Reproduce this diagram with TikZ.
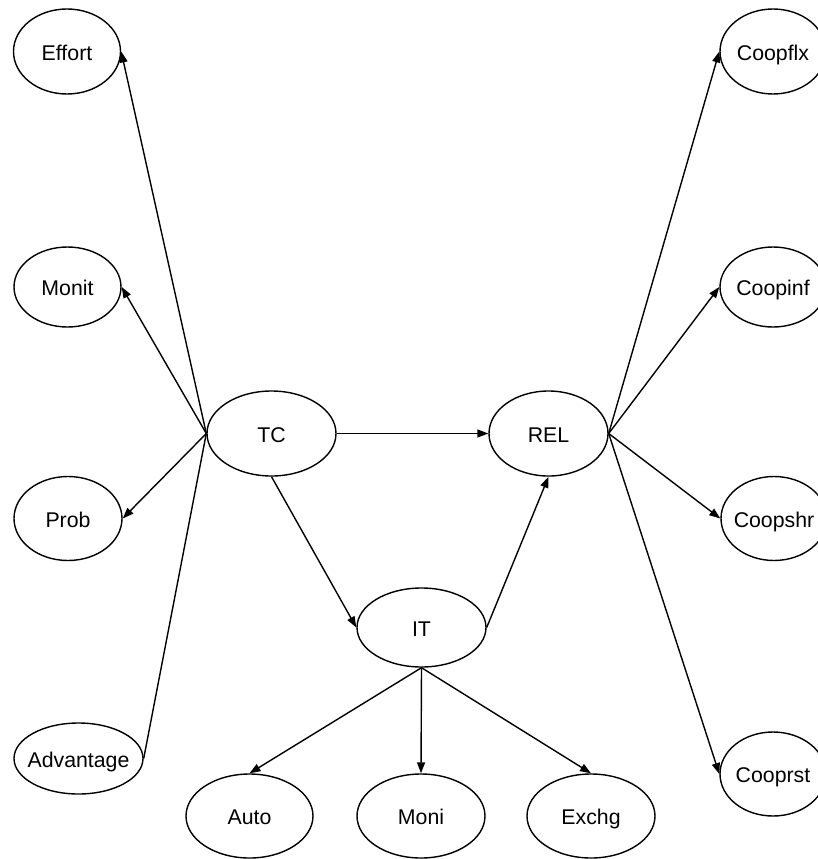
\documentclass[tikz,border=0pt]{standalone}
\usepackage{fontspec}
\setmainfont{Liberation Sans}
\usetikzlibrary{shapes.geometric,arrows.meta}
\begin{document}
\begin{tikzpicture}[x=1pt,y=-1pt,
  ell/.style={draw=black, line width=1.4pt, ellipse, inner sep=0pt,
    minimum width=#1},
  ell/.default=106pt,
  every label/.style={font=\fontsize{21.3}{25}\selectfont, inner sep=0pt,
    text height=15.3pt, text depth=0pt, yshift=-1pt},
  conn/.style={line width=1.4pt, -{Triangle[length=11pt,width=8pt]}},
  plain/.style={line width=1.4pt}
]
\useasboundingbox (0,0) rectangle (817,859);
\fill[white] (0,0) rectangle (817,859);

% left column
\node[ell=107pt, minimum height=85pt, label={center:Effort}] (effort) at (67,51.5) {};
\node[ell=107pt, minimum height=80pt, label={center:Monit}] (monit) at (67.5,287) {};
\node[ell=108pt, minimum height=84pt, label={center:Prob}] (prob) at (68,518.5) {};
\node[ell=129pt, minimum height=71pt, label={center:Advantage}] (adv) at (78.5,758.5) {};

% middle
\node[ell=129pt, minimum height=85pt, label={center:TC}] (tc) at (271.5,433.5) {};
\node[ell=119pt, minimum height=85pt, label={center:REL}] (rel) at (548.5,433.5) {};
\node[ell=129pt, minimum height=79pt, label={center:IT}] (it) at (421.5,627.5) {};

% bottom row
\node[ell=127pt, minimum height=84pt, label={center:Auto}] (auto) at (249.5,816) {};
\node[ell=128pt, minimum height=84pt, label={center:Moni}] (moni) at (421,816) {};
\node[ell=128pt, minimum height=84pt, label={center:Exchg}] (exchg) at (591,816) {};

% right column
\node[ell=106pt, minimum height=85pt, label={center:Coopflx}] (coopflx) at (773,51.5) {};
\node[ell=106pt, minimum height=80pt, label={center:Coopinf}] (coopinf) at (773,287) {};
\node[ell=106pt, minimum height=84pt, label={center:Coopshr}] (coopshr) at (774,518.5) {};
\node[ell=106pt, minimum height=84pt, label={center:Cooprst}] (cooprst) at (773,774) {};

% connectors
\draw[conn] (tc.west) -- (effort.east);
\draw[conn] (tc.west) -- (monit.east);
\draw[conn] (tc.west) -- (prob.east);
\draw[plain] (tc.west) -- (adv.east);
\draw[conn] (tc.east) -- (rel.west);
\draw[conn] (tc.south) -- (it.west);
\draw[conn] (it.east) -- (rel.south);
\draw[conn] (it.south) -- (auto.north);
\draw[conn] (it.south) -- (moni.north);
\draw[conn] (it.south) -- (exchg.north);
\draw[conn] (rel.east) -- (coopflx.west);
\draw[conn] (rel.east) -- (coopinf.west);
\draw[conn] (rel.east) -- (coopshr.west);
\draw[conn] (rel.east) -- (cooprst.west);
\end{tikzpicture}
\end{document}
